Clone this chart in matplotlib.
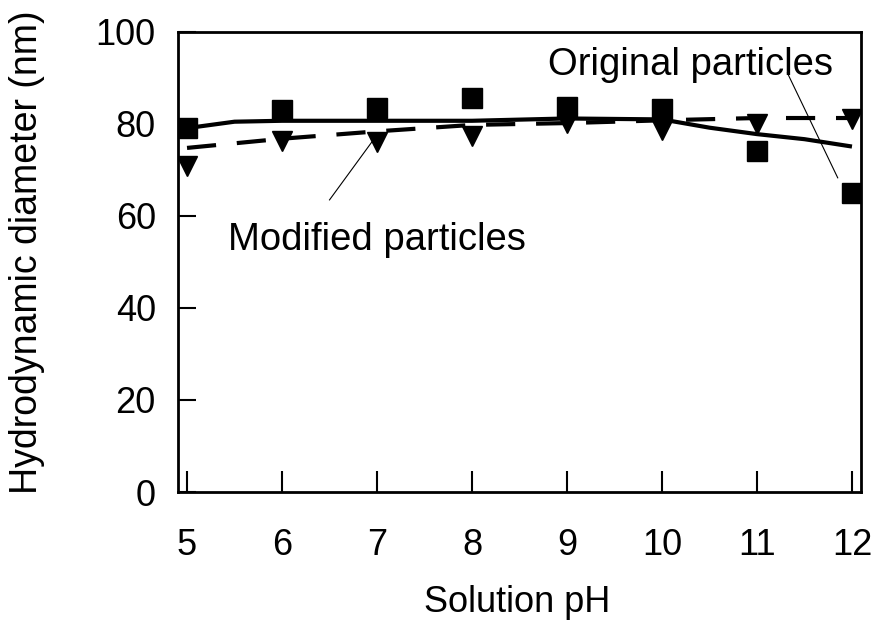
import matplotlib
matplotlib.use("Agg")
import matplotlib.pyplot as plt
import numpy as np

# measured points
ph = [5, 6, 7, 8, 9, 10, 11, 12]
original = [79.1, 83.1, 83.5, 85.6, 83.8, 83.3, 74.1, 65.0]
modified = [70.8, 76.3, 76.0, 77.4, 80.2, 78.8, 80.0, 81.0]

# trend lines
orig_fit_ph = [5, 5.5, 6, 7, 8, 9, 10, 10.5, 11, 11.5, 12]
orig_fit = [79.1, 80.5, 80.7, 80.7, 80.7, 81.2, 81.0, 79.2, 77.8, 76.7, 75.1]
mod_fit_ph = [5, 6, 7, 8, 9, 10, 11, 12]
mod_fit = [74.8, 76.8, 78.4, 79.8, 80.2, 80.8, 81.3, 81.3]

x_ticks = [5, 6, 7, 8, 9, 10, 11, 12]
y_ticks = [0, 20, 40, 60, 80, 100]

plt.rcParams["font.family"] = ["Liberation Sans", "DejaVu Sans"]
fs = 26
fs_note = 27.5

fig = plt.figure(figsize=(8.74, 6.24), dpi=100)
ax = fig.add_axes([178 / 874, 1 - 492 / 624, (861 - 178) / 874, (492 - 32) / 624])

ax.plot(orig_fit_ph, orig_fit, color="black", lw=3, solid_capstyle="butt")
ax.plot(mod_fit_ph, mod_fit, color="black", lw=3, dashes=(7, 5))
ax.plot(ph, original, ls="none", marker="s", ms=14, color="black")
ax.plot(ph, modified, ls="none", marker="v", ms=15, color="black")

ax.set_xlim(4.905, 12.095)
ax.set_ylim(0, 100)
ax.set_xticks(x_ticks)
ax.set_yticks(y_ticks)
ax.tick_params(axis="x", direction="in", length=15, width=1.5, pad=26, labelsize=fs)
ax.tick_params(axis="y", direction="in", length=13, width=1.5, pad=16, labelsize=fs)
for s in ax.spines.values():
    s.set_linewidth(2)

ax.text(5.43, 52.6, "Modified particles", fontsize=fs_note, ha="left", va="baseline")
ax.plot([6.5, 6.96], [63.5, 76.5], color="black", lw=0.8)
ax.text(8.8, 90.65, "Original particles", fontsize=fs_note, ha="left", va="baseline")
ax.plot([11.32, 11.85], [91.1, 68.3], color="black", lw=0.8)

fig.text(27 / 874, 1 - 252 / 624, "Hydrodynamic diameter (nm)", fontsize=27,
         rotation=90, ha="center", va="center")
fig.text(517 / 874, 1 - 603 / 624, "Solution pH", fontsize=fs, ha="center", va="center")

fig.savefig("out.png", dpi=100)
